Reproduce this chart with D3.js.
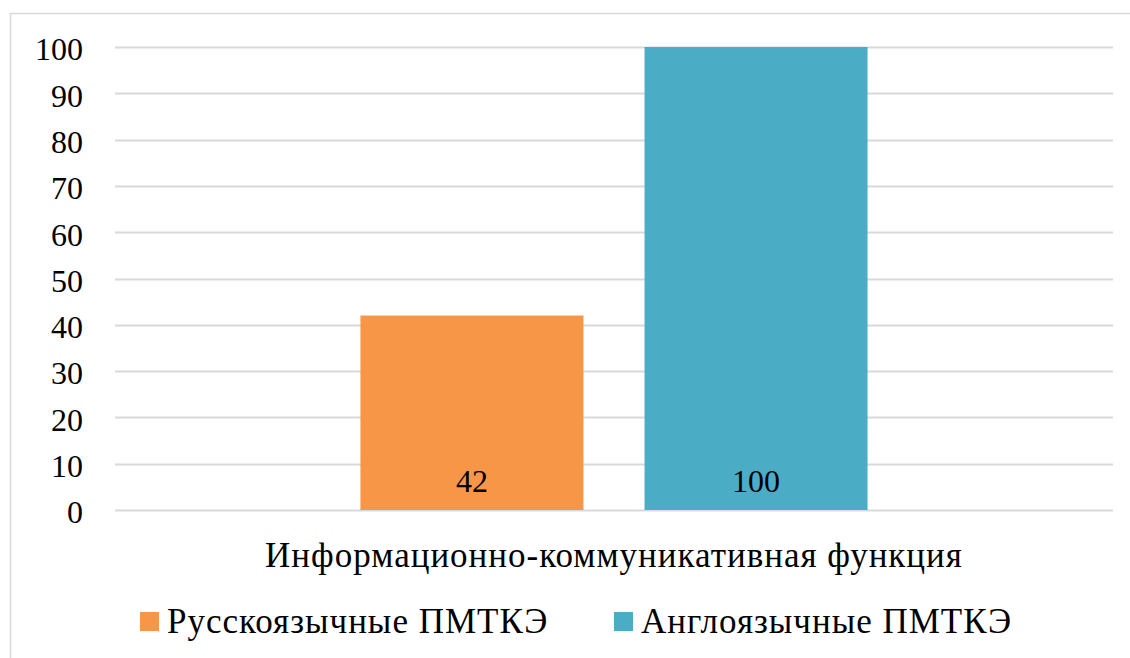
<!DOCTYPE html>
<html>
<head>
<meta charset="utf-8">
<script src="https://cdn.jsdelivr.net/npm/d3@7"></script>
<style>
  body { margin: 0; background: #fff; }
  svg { display: block; }
  svg text { font-family: "Liberation Serif", "Times New Roman", "DejaVu Serif", serif; }
</style>
</head>
<body>
<svg id="chart" width="1130" height="658"></svg>
<script>
// chart data
const categories = ["Информационно-коммуникативная функция"];
const seriesNames = ["Русскоязычные ПМТКЭ", "Англоязычные ПМТКЭ"];
const seriesValues = [[42], [100]];
const colors = ["#F79646", "#4BACC6"];
const yTicks = [0, 10, 20, 30, 40, 50, 60, 70, 80, 90, 100];

const svg = d3.select("#chart");

// outer frame
svg.append("rect")
  .attr("x", 10.5).attr("y", 13.5)
  .attr("width", 1130).attr("height", 660)
  .attr("fill", "none").attr("stroke", "#d9d9d9").attr("stroke-width", 1.5);

const plotLeft = 115, plotRight = 1113, plotTop = 47, plotBottom = 510;

const y = d3.scaleLinear().domain([0, 100]).range([plotBottom, plotTop]);
const x0 = d3.scaleBand().domain(categories).range([plotLeft, plotRight]).paddingInner(0).paddingOuter(0.484);
const x1 = d3.scaleBand().domain(seriesNames).range([0, x0.bandwidth()]).paddingInner(0.215);

// gridlines
svg.append("g")
  .selectAll("line")
  .data(yTicks)
  .join("line")
  .attr("x1", plotLeft).attr("x2", plotRight)
  .attr("y1", d => Math.round(y(d)) + 0.5)
  .attr("y2", d => Math.round(y(d)) + 0.5)
  .attr("stroke", "#d9d9d9")
  .attr("stroke-width", 2);

// y axis labels
const yAxis = d3.axisLeft(y).tickValues(yTicks).tickSize(0).tickPadding(0);
const gy = svg.append("g").attr("transform", "translate(83,0)").call(yAxis);
gy.select(".domain").remove();
gy.attr("font-family", null).attr("font-size", null);
gy.selectAll("text")
  .style("font-size", "32px")
  .attr("fill", "#000")
  .attr("dy", "0.4em");

// bars
const groups = svg.append("g")
  .selectAll("g")
  .data(categories)
  .join("g")
  .attr("transform", d => "translate(" + x0(d) + ",0)");

seriesNames.forEach((name, si) => {
  groups.append("rect")
    .attr("x", x1(name))
    .attr("y", (d, ci) => y(seriesValues[si][ci]))
    .attr("width", x1.bandwidth())
    .attr("height", (d, ci) => plotBottom - y(seriesValues[si][ci]))
    .attr("fill", colors[si]);

  groups.append("text")
    .attr("x", x1(name) + x1.bandwidth() / 2)
    .attr("y", plotBottom - 18)
    .attr("text-anchor", "middle")
    .style("font-size", "32px")
    .attr("fill", "#000")
    .text((d, ci) => seriesValues[si][ci]);
});

// category label
svg.append("g")
  .selectAll("text")
  .data(categories)
  .join("text")
  .attr("x", d => x0(d) + x0.bandwidth() / 2)
  .attr("y", 567)
  .attr("text-anchor", "middle")
  .style("font-size", "35px")
  .style("letter-spacing", "1px")
  .attr("fill", "#000")
  .text(d => d);

// legend
const legendX = [140, 614];
const legend = svg.append("g")
  .selectAll("g")
  .data(seriesNames)
  .join("g")
  .attr("transform", (d, i) => "translate(" + legendX[i] + ",612)");

legend.append("rect")
  .attr("width", 19).attr("height", 19)
  .attr("fill", (d, i) => colors[i]);

legend.append("text")
  .attr("x", 27)
  .attr("y", 21)
  .style("font-size", "35px")
  .style("letter-spacing", "1px")
  .attr("fill", "#000")
  .text(d => d);
</script>
</body>
</html>
